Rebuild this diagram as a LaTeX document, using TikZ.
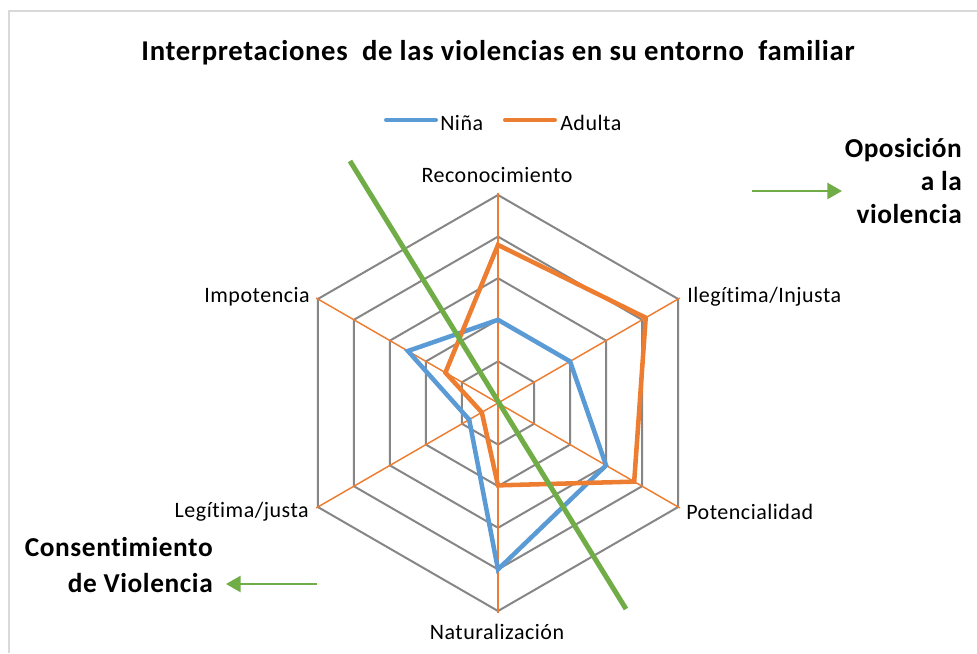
\documentclass[tikz,border=0pt]{standalone}
\usepackage{fontspec}
\setmainfont{Carlito}[Ligatures=NoCommon]
\usetikzlibrary{arrows.meta}
\definecolor{ninablue}{RGB}{91,155,213}
\definecolor{adultaorange}{RGB}{237,125,49}
\definecolor{oppgreen}{RGB}{112,173,71}
\definecolor{ringgray}{RGB}{134,134,134}
\definecolor{framegray}{RGB}{217,217,217}
\tikzset{
  ring/.style={draw=ringgray, line width=1.5pt, line join=miter},
  spoke/.style={draw=adultaorange, line width=1.1pt},
  serie/.style={line width=3.4pt, line join=miter},
  axislabel/.style={inner sep=0pt, font=\fontsize{16.5}{19}\selectfont\addfontfeature{LetterSpace=2.3}},
  sidelabel/.style={inner sep=0pt, align=right, font=\bfseries\fontsize{20.5}{25}\selectfont\addfontfeature{LetterSpace=1.8}},
  greenarrow/.style={draw=oppgreen, line width=1.9pt, -{Triangle[length=11pt,width=12pt]}}
}
\begin{document}
\begin{tikzpicture}[x=0.75pt,y=0.75pt,yscale=-1,xscale=1]
\useasboundingbox (0,0) rectangle (977,653);

%Frame
\draw [draw=framegray, line width=1.5pt] (9,653) -- (9,11) -- (977,11) ;

% Text Node
\node [inner sep=0pt, font=\bfseries\fontsize{21.5}{25}\selectfont\addfontfeature{LetterSpace=2.4}] (title) at (498,53) {Interpretaciones\ \ de las violencias en su entorno\ \ familiar};

%Legend
\coordinate (ninaA) at (386,120);
\coordinate (ninaB) at (436,120);
\coordinate (adultaA) at (505,120);
\coordinate (adultaB) at (555,120);
\draw [ninablue, line width=3pt, line cap=round] (ninaA) -- (ninaB) ;
\draw [adultaorange, line width=3pt, line cap=round] (adultaA) -- (adultaB) ;
\node [axislabel, anchor=west] (ninalab) at (440,123) {Niña};
\node [axislabel, anchor=west] (adultalab) at (560,123) {Adulta};

\begin{scope}[shift={(498,403)}]
%Rings
\foreach \k in {1,...,5}
  \draw [ring] (-90:41.6*\k) -- (-30:41.6*\k) -- (30:41.6*\k) -- (90:41.6*\k) -- (150:41.6*\k) -- (210:41.6*\k) -- cycle ;
%Spokes
\foreach \a in {-90,-30,30,90,150,210}
  \draw [spoke] (0,0) -- (\a:210) ;
%Series
\draw [serie, ninablue] (-90:2*41.6) -- (-30:2*41.6) -- (30:3*41.6) -- (90:4*41.6) -- (150:0.8*41.6) -- (210:2.5*41.6) -- cycle ;
\draw [serie, adultaorange] (-90:3.8*41.6) -- (-30:4.1*41.6) -- (30:3.78*41.6) -- (90:1.98*41.6) -- (150:0.45*41.6) -- (210:1.46*41.6) -- cycle ;
\end{scope}

% Text Node
\node [axislabel] (recon) at (497,175) {Reconocimiento};
\node [axislabel, anchor=west] (ilegit) at (687,297) {Ilegítima/Injusta};
\node [axislabel, anchor=west] (potenc) at (686,512) {Potencialidad};
\node [axislabel] (natural) at (497,632) {Naturalización};
\node [axislabel, anchor=east] (legit) at (309,512) {Legítima/justa};
\node [axislabel, anchor=east] (impot) at (310,297) {Impotencia};

%Green divider
\coordinate (divA) at (350,161);
\coordinate (divB) at (626,609);
\draw [oppgreen, line width=3.75pt] (divA) -- (divB) ;

% Text Node
\node [sidelabel, anchor=east] (opos) at (962,181) {Oposición\\a la\\violencia};
\node [sidelabel, anchor=east, font=\bfseries\fontsize{20.5}{27}\selectfont\addfontfeature{LetterSpace=2.2}] (consen) at (213,565) {Consentimiento\\de Violencia};

%Arrows
\coordinate (oposA) at (752,191);
\coordinate (oposB) at (842,191);
\coordinate (consA) at (317,584);
\coordinate (consB) at (226,584);
\draw [greenarrow] (oposA) -- (oposB) ;
\draw [greenarrow] (consA) -- (consB) ;

\end{tikzpicture}
\end{document}
